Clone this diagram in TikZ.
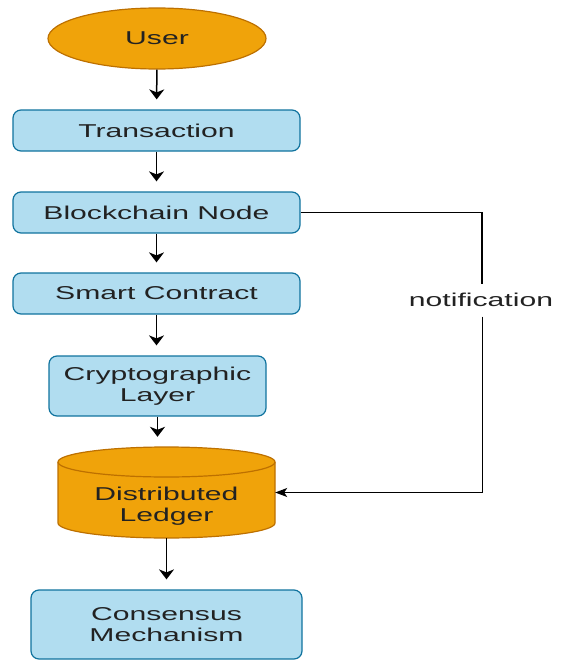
\documentclass[tikz,border=0pt]{standalone}
\usepackage{fontspec}
\setmainfont[FakeStretch=1.62]{Liberation Sans}
\usetikzlibrary{arrows.meta,shapes.geometric}
\definecolor{bfill}{HTML}{B1DDF0}
\definecolor{bline}{HTML}{10739E}
\definecolor{ofill}{HTML}{F0A30A}
\definecolor{oline}{HTML}{BD7000}
\definecolor{txt}{HTML}{222222}
\begin{document}
\begin{tikzpicture}[x=1pt,y=-1pt,
  every node/.style={font=\fontsize{18.6}{21.5}\selectfont, text=txt, align=center, inner sep=0pt},
  bluebox/.style={draw=bline, fill=bfill, line width=1.2pt, rounded corners=8pt},
  varrow/.style={line width=1.5pt, -{Stealth[length=10pt,width=15pt,inset=3pt]}, shorten >=10pt},
  harrow/.style={line width=1pt, -{Stealth[length=12pt,width=9pt,inset=3pt]}},
  nline/.style={line width=1.2pt}]
\useasboundingbox (0,0) rectangle (564,661);
\node[ellipse, draw=oline, fill=ofill, line width=1.2pt, minimum width=218pt, minimum height=61pt] (user) at (157,38.5) {User};
\node[bluebox, minimum width=287pt, minimum height=41pt] (trans) at (156.5,130.5) {Transaction};
\node[bluebox, minimum width=287pt, minimum height=41pt] (block) at (156.5,212.5) {Blockchain Node};
\node[bluebox, minimum width=287pt, minimum height=41pt] (smart) at (156.5,293.5) {Smart Contract};
\node[bluebox, minimum width=217pt, minimum height=60pt] (crypto) at (157.5,386) {Cryptographic\\Layer};
% cylinder
\filldraw[fill=ofill, draw=oline, line width=1.2pt] (58,462) -- (58,523)
  arc[start angle=180, end angle=360, x radius=108.5pt, y radius=15pt] -- (275,462)
  arc[start angle=0, end angle=180, x radius=108.5pt, y radius=15pt] -- cycle;
\draw[draw=oline, line width=1.2pt] (58,462) arc[start angle=180, end angle=360, x radius=108.5pt, y radius=15pt];
\node[minimum width=217pt, minimum height=91pt] (ledger) at (166.5,492.5) {};
\node (ledgertext) at (166.5,506) {Distributed\\Ledger};
\node[bluebox, minimum width=271pt, minimum height=69pt] (cons) at (166.5,624.5) {Consensus\\Mechanism};
% arrows
\draw[varrow] (user) -- (trans);
\draw[varrow] (trans) -- (block);
\draw[varrow] (block) -- (smart);
\draw[varrow] (smart.south) -- (smart.south |- crypto.north);
\draw[varrow] (crypto.south) -- (crypto.south |- ledger.north);
\draw[varrow] (ledger) -- (cons);
% notification
\node[minimum height=33pt] (notif) at (481,300) {notification};
\coordinate (nup) at (482,283.5);
\coordinate (ndown) at (482,316.5);
\draw[nline] (block.east) -| (nup);
\draw[nline, harrow] (ndown) |- (ledger.east);
\end{tikzpicture}
\end{document}
